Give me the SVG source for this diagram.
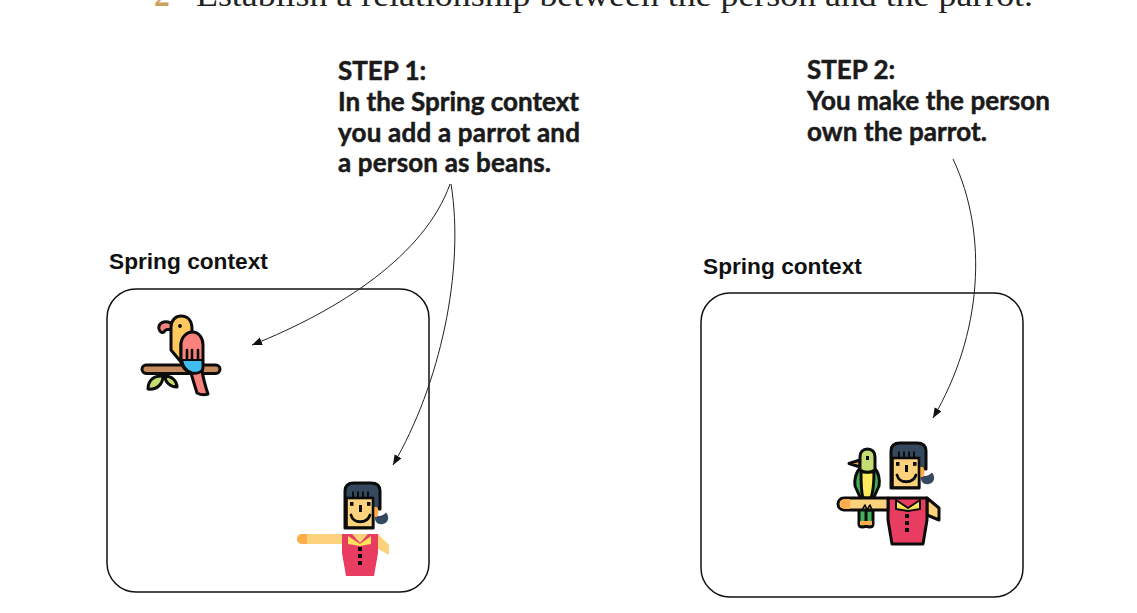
<svg xmlns="http://www.w3.org/2000/svg" width="1137" height="613" viewBox="0 0 1137 613">
<style>
.box{fill:none;stroke:#111;stroke-width:1.5}
.ctx{font:bold 22.700px "Liberation Sans",Arial,sans-serif;fill:#111}
.step{font:bold 26px "Lato","Open Sans",sans-serif;fill:#1a1a1a;stroke:#1a1a1a;stroke-width:.5}
.top{font:31.5px "Liberation Serif","Times New Roman",serif;fill:#222}
.con{fill:none;stroke:#222;stroke-width:1}
.k{stroke:#0c0c0c;stroke-width:3;stroke-linejoin:round;stroke-linecap:round}
.ln{fill:none;stroke:#0c0c0c;stroke-width:2.600;stroke-linecap:round;stroke-linejoin:round}
</style>
<defs>
<marker id="arr" markerWidth="11" markerHeight="9" refX="10" refY="4" orient="auto" markerUnits="userSpaceOnUse"><path d="M0 0L10 4L0 8Z" fill="#111"/></marker>
<g id="head">
<path d="M33 34C37 36 41 35 44 31.500C47.500 35 47 42 41 43C36 44 33 41 33 37Z" fill="#35495e"/>
<path d="M3 47V10C3 4 7 2 12 2H29C35 2 38 5 38 10V28H31V47Z" fill="#35495e" stroke="#0c0c0c" stroke-width="3" stroke-linejoin="round"/>
<path d="M31 26H35C37 28 37 33 35 36H31Z" fill="#fdae4b"/>
<rect x="4.500" y="17" width="26.500" height="29.500" fill="#fdd27c" stroke="#0c0c0c" stroke-width="2.600"/>
<path d="M11 10.500V17M16 10.500V17M21 10.500V17M26 10.500V17" stroke="#0c0c0c" stroke-width="2"/>
<rect x="8" y="21" width="3.500" height="3.800" fill="#0c0c0c"/><rect x="25" y="21" width="3.500" height="3.800" fill="#0c0c0c"/><rect x="17" y="24" width="3" height="7" fill="#0c0c0c"/>
<path d="M9 34C11 43 25 43 28 34" fill="none" stroke="#0c0c0c" stroke-width="2.800" stroke-linecap="round"/>
</g>
</defs>

<text class="top" x="154" y="6" style="fill:#c9a15a;font-weight:bold">2</text>
<text class="top" x="196" y="6" textLength="837" lengthAdjust="spacingAndGlyphs">Establish a relationship between the person and the parrot.</text>

<g id="step1"><text class="step" x="338" y="80">STEP 1:</text><text class="step" x="338" y="111" textLength="241">In the Spring context</text><text class="step" x="338" y="142" textLength="242">you add a parrot and</text><text class="step" x="338" y="172" textLength="213">a person as beans.</text></g>
<g id="step2"><text class="step" x="807" y="79">STEP 2:</text><text class="step" x="807" y="110" textLength="243">You make the person</text><text class="step" x="807" y="141" textLength="180">own the parrot.</text></g>

<g id="context1"><rect class="box" x="107" y="289" width="322" height="303" rx="29"/><text class="ctx" x="109" y="269">Spring context</text></g>
<g id="context2"><rect class="box" x="701" y="293" width="322" height="304" rx="29"/><text class="ctx" x="703" y="274">Spring context</text></g>

<g id="connectors">
<path class="con" marker-end="url(#arr)" d="M450 184C425 255 340 310 252 345"/>
<path class="con" marker-end="url(#arr)" d="M451 184C465 270 440 385 393 465"/>
<path class="con" marker-end="url(#arr)" d="M953 159C989 235 982 335 933 418"/>
</g>

<g id="parrot">
<path class="k" d="M171 323C164 320 158 323 159 329C160 333 163 333 164 332C165 329 169 329 172 330Z" fill="#f9837c"/>
<path class="k" d="M161 376C153 376 148 381 148 389C156 390 163 385 163 376Z" fill="#c5dc73"/>
<path class="k" d="M165 376C165 382 170 387 177 387C177 381 172 376 165 376Z" fill="#c5dc73"/>
<rect class="k" x="142" y="365" width="78" height="8.500" rx="4.200" fill="#c88a5f"/>
<path class="k" d="M190 370L197 393C201 395 205 395 208 394C205 385 203 378 202 370Z" fill="#f9837c"/>
<path class="k" d="M171 350V327C171 320 176 316 181 316C188 316 192 321 192 329V333C185 334 181 339 181 345V362Z" fill="#fdc95f"/>
<circle cx="180" cy="326" r="1.900" fill="#0c0c0c"/>
<path class="k" d="M181 345C181 337 187 332 192 332C199 332 203 338 203 345V367C203 372 197 374 192 373C186 372 181 366 181 360Z" fill="#f9837c"/>
<path d="M182 360H202.500V368C202 372 197 373.500 192 372.500C187 371 183 366 182 360Z" fill="#40bdf0" stroke="#0c0c0c" stroke-width="2"/>
<path class="ln" d="M187 359V350M192 359V350M198 359V350"/>
</g>

<g id="person">
<path d="M297 539a5 5 0 0 1 5-5H343V544H302a5 5 0 0 1-5-5Z" fill="#fdd27c"/>
<path d="M297 539a5 5 0 0 1 5-5h5v10h-5a5 5 0 0 1-5-5Z" fill="#fdae4b"/>
<path d="M378 534L389 545V555L378 549Z" fill="#fdd27c"/>
<path d="M342 534H378V553L374 576H346L342 553Z" fill="#e83d60"/>
<path d="M348 536L360 544L371 536V544L360 546L348 544Z" fill="#fde25c"/>
<path d="M352 534H368L360 543Z" fill="#fdd27c"/>
<rect x="358" y="547" width="4" height="4" fill="#0c0c0c"/><rect x="358" y="554" width="4" height="4" fill="#0c0c0c"/><rect x="358" y="561" width="4" height="4" fill="#0c0c0c"/>
<use href="#head" x="342" y="481"/>
</g>

<g id="person-parrot">
<path class="k" d="M927 498L939 508V520L927 515Z" fill="#fdd27c"/>
<path class="k" d="M888 498H927V520L923 544H892L888 520Z" fill="#e83d60"/>
<path d="M896 500L908 508L920 500V509L908 511L896 509Z" fill="#fde25c" stroke="#0c0c0c" stroke-width="2" stroke-linejoin="round"/>
<rect x="905" y="514" width="4" height="4" fill="#0c0c0c"/><rect x="905" y="521" width="4" height="4" fill="#0c0c0c"/><rect x="905" y="528" width="4" height="4" fill="#0c0c0c"/>
<use href="#head" x="888" y="441"/>
<path class="k" d="M859 510V524C859 528 866 528 866 524V510M866 510V524C866 528 873 528 873 524V510Z" fill="#43b05c"/>
<path d="M860 521H872V525H860Z" fill="#fdae4b"/>
<path class="k" d="M860 468C856 472 854 480 855 486L860 497H864V470Z" fill="#43b05c"/>
<path class="k" d="M874 468C879 472 880 480 879 486L874 497H870V470Z" fill="#43b05c"/>
<path class="k" d="M860 467L849 463.500L860 460Z" fill="#fdae4b"/>
<path class="k" d="M861 472C861 480 861 492 863 498H871C873 492 874 480 874 472Z" fill="#fdeb5c"/>
<path class="k" d="M860 470V457C860 452 863 449 867.500 449C872 449 875 452 875 457V470C870 473 865 473 860 470Z" fill="#c5dc73"/>
<rect x="866" y="456" width="3" height="4" fill="#0c0c0c"/>
<path class="k" d="M844 498H888V510H844C840 510 838 507 838 504C838 501 840 498 844 498Z" fill="#fdd27c"/>
<path d="M840 504a5 5 0 0 1 5-5h5v10h-5a5 5 0 0 1-5-5Z" fill="#fdae4b"/>
<path class="ln" d="M862 510L865 505L867 510L870 505L872 510" style="stroke-width:1.600"/>
</g>
</svg>
